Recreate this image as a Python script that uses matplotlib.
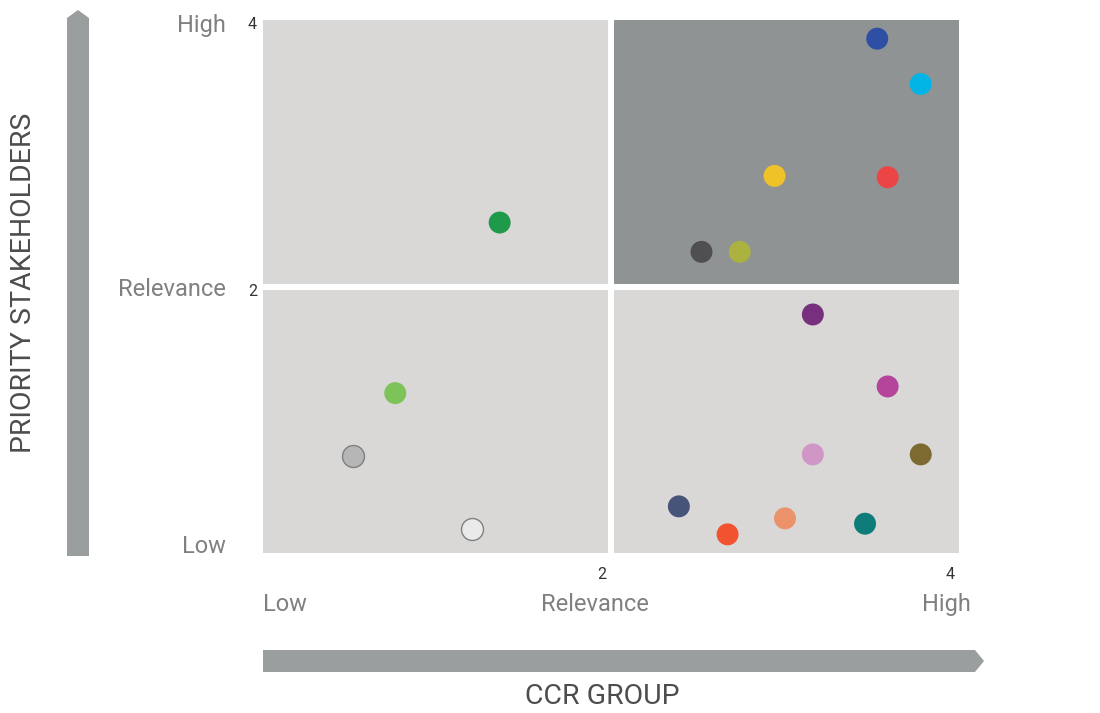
import matplotlib.pyplot as plt
from matplotlib.patches import Rectangle, Polygon

plt.rcParams['font.family'] = ['Roboto', 'DejaVu Sans']

# relevance scores for each topic: x = CCR group, y = priority stakeholders
ccr_group = [3.53, 3.78, 2.94, 3.59, 2.52, 2.74, 1.36,
             3.16, 3.59, 3.16, 3.78, 2.39, 2.67, 3.00, 3.46,
             0.76, 0.52, 1.20]
stakeholders = [3.86, 3.52, 2.83, 2.82, 2.26, 2.26, 2.48,
                1.79, 1.25, 0.74, 0.74, 0.35, 0.14, 0.26, 0.22,
                1.20, 0.73, 0.18]
colors = ['#2E4FA3', '#00B5E6', '#F0C22A', '#EB4546', '#4F4E52', '#ABB240', '#1E9A4A',
          '#76307E', '#B4459A', '#D097C6', '#7C6A31', '#465479', '#F15230', '#EC926B', '#0E7C78',
          '#7DC35A', '#B5B6B5', '#EBEAEB']
edges = ['none'] * 16 + ['#7F7F7F', '#808080']

level_labels = ['Low', 'Relevance', 'High']
tick_values = [2, 4]

W, H = 1100, 713
fig = plt.figure(figsize=(W / 100, H / 100), dpi=100)
ax = fig.add_axes([263 / W, (H - 553) / H, 696 / W, 533 / H])
ax.set_xlim(0, 4)
ax.set_ylim(0, 4)
ax.axis('off')

# quadrant backgrounds (top right = priority topics)
for qx in (0, 2):
    for qy in (0, 2):
        fc = '#8F9394' if (qx == 2 and qy == 2) else '#D9D8D7'
        ax.add_patch(Rectangle((qx, qy), 2, 2, facecolor=fc, edgecolor='none', zorder=0))
ax.axvline(2, color='white', lw=4.3, zorder=1)
ax.axhline(2, color='white', lw=4.3, zorder=1)

for x, y, c, e in zip(ccr_group, stakeholders, colors, edges):
    ax.scatter(x, y, s=250, color=c, edgecolors=e, linewidths=1.0, zorder=3)

# numeric ticks
for v in tick_values:
    ax.text(v - 0.025, -0.16, str(v), ha='right', va='center', fontsize=11.5, color='#333333', clip_on=False)
    ax.text(-0.035, v - 0.035, str(v), ha='right', va='center', fontsize=11.5, color='#333333', clip_on=False)

# level labels along both axes
lab = dict(va='center', fontsize=17, color='#808080')
ax.text(0, -0.385, level_labels[0], ha='left', **lab)
ax.text(1.91, -0.385, level_labels[1], ha='center', **lab)
ax.text(4.07, -0.385, level_labels[2], ha='right', **lab)
ax.text(-0.215, 0.05, level_labels[0], ha='right', **lab)
ax.text(-0.215, 1.98, level_labels[1], ha='right', **lab)
ax.text(-0.215, 3.96, level_labels[2], ha='right', **lab)


def px(points):
    return [(x / W, 1 - y / H) for x, y in points]


# axis arrows
arrow_color = '#9A9E9F'
fig.patches.append(Polygon(px([(67, 556), (89, 556), (89, 18), (78, 10), (67, 18)]),
                           closed=True, facecolor=arrow_color, edgecolor='none',
                           transform=fig.transFigure))
fig.patches.append(Polygon(px([(263, 650), (975, 650), (984, 661), (975, 672), (263, 672)]),
                           closed=True, facecolor=arrow_color, edgecolor='none',
                           transform=fig.transFigure))

fig.text(602 / W, 1 - 697 / H, 'CCR GROUP', ha='center', va='center', fontsize=20.5, color='#4D4D4D')
fig.text(24 / W, 1 - 283 / H, 'PRIORITY STAKEHOLDERS', ha='center', va='center', rotation=90,
         fontsize=20.5, color='#4D4D4D')

fig.savefig('out.png', dpi=100)
